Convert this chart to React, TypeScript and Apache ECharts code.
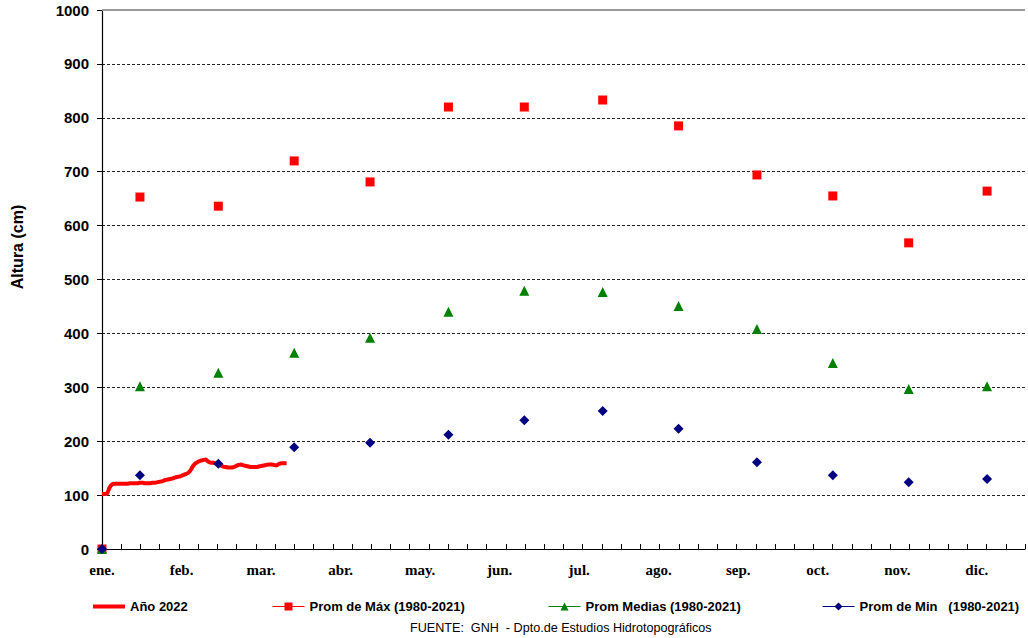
import React, { useEffect, useRef } from 'react';
import * as echarts from 'echarts';

// meses (etiquetas del eje X)
const monthLabels = ['ene.', 'feb.', 'mar.', 'abr.', 'may.', 'jun.', 'jul.', 'ago.', 'sep.', 'oct.', 'nov.', 'dic.'];
// día del año donde se ubica cada promedio mensual
const monthMid = [15, 46, 76, 106, 137, 167, 198, 228, 259, 289, 319, 350];

const promMax = [653, 636, 720, 681, 820, 820, 833, 785, 694, 655, 568, 664];
const promMedias = [302, 327, 364, 392, 440, 479, 477, 451, 408, 345, 297, 302];
const promMin = [137, 158, 189, 197, 212, 239, 256, 223, 161, 137, 124, 130];

// Año 2022, lecturas diarias desde el 1 de enero
const nivel2022 = [
  102, 102, 103, 114, 120, 121, 121, 121, 121, 121,
  121, 122, 122, 122, 122, 123, 123, 122, 122, 122,
  123, 123, 124, 125, 126, 128, 129, 130, 131, 133,
  134, 135, 137, 139, 141, 146, 154, 159, 162, 164,
  165, 166, 162, 160, 160, 159, 157, 155, 153, 152,
  151, 151, 152, 154, 156, 157, 155, 154, 153, 152,
  152, 152, 153, 154, 155, 156, 157, 157, 156, 155,
  158, 159, 159, 159,
];

const yTicks = { min: 0, max: 1000, interval: 100 };
const daysInYear = 365;
const tickCount = 48;
const labelStepDays = 31.45;

const App: React.FC = () => {
  const chartRef = useRef<HTMLDivElement>(null);

  useEffect(() => {
    if (!chartRef.current) return;
    const chart = echarts.init(chartRef.current, undefined, { renderer: 'svg' });

    const sans = 'Liberation Sans, Arial, sans-serif';
    const serif = 'Liberation Serif, Times New Roman, serif';

    const withOrigin = (vals: number[]) => [[0, 0], ...vals.map((v, i) => [monthMid[i], v])];

    const legendBase = {
      orient: 'horizontal' as const,
      top: 600,
      padding: 0,
      itemWidth: 32,
      itemHeight: 10,
      textStyle: { fontFamily: sans, fontWeight: 'bold' as const, fontSize: 13, color: '#000' },
      selectedMode: false,
    };

    const option = {
      animation: false,
      backgroundColor: '#fff',
      grid: { left: 102, right: 3, top: 10, bottom: 89, outerBoundsMode: 'none' },
      title: {
        text: 'FUENTE:  GNH  - Dpto.de Estudios Hidrotopográficos',
        left: 410,
        top: 621,
        padding: 0,
        textStyle: { fontFamily: sans, fontWeight: 'normal', fontSize: 12.6, color: '#000' },
      },
      legend: [
        {
          ...legendBase,
          left: 93,
          top: 600,
          itemHeight: 4,
          data: [{ name: 'Año 2022', icon: 'rect', itemStyle: { color: '#ff0000' } }],
        },
        {
          ...legendBase,
          left: 272,
          data: [{ name: 'Prom de Máx (1980-2021)', lineStyle: { width: 1, opacity: 1, color: '#ff0000' } }],
        },
        {
          ...legendBase,
          left: 548,
          data: [{ name: 'Prom Medias (1980-2021)', lineStyle: { width: 1, opacity: 1, color: '#008000' } }],
        },
        {
          ...legendBase,
          left: 822,
          data: [{ name: 'Prom de Min   (1980-2021)', lineStyle: { width: 1, opacity: 1, color: '#000080' } }],
        },
      ],
      graphic: [
        {
          type: 'text',
          x: 17,
          y: 247,
          rotation: Math.PI / 2,
          style: {
            text: 'Altura (cm)',
            fontFamily: sans,
            fontWeight: 'bold',
            fontSize: 16,
            fill: '#000',
            textAlign: 'center',
            textVerticalAlign: 'middle',
          },
        },
      ],
      xAxis: [
        {
          type: 'value',
          position: 'bottom',
          min: 0,
          max: daysInYear,
          interval: daysInYear / tickCount,
          axisLine: { onZero: false, lineStyle: { color: '#000', width: 1.2 } },
          axisTick: { inside: true, length: 5, lineStyle: { color: '#000' } },
          axisLabel: { show: false },
          splitLine: { show: false },
        },
        {
          type: 'value',
          position: 'bottom',
          min: 0,
          max: daysInYear,
          interval: labelStepDays,
          axisLine: { show: false, onZero: false },
          axisTick: { show: false },
          splitLine: { show: false },
          axisLabel: {
            margin: 13,
            showMaxLabel: false,
            fontFamily: serif,
            fontWeight: 'bold',
            fontSize: 15,
            color: '#000',
            formatter: (v: number) => monthLabels[Math.round(v / labelStepDays)] ?? '',
          },
        },
      ],
      yAxis: {
        type: 'value',
        min: yTicks.min,
        max: yTicks.max,
        interval: yTicks.interval,
        axisLine: { show: true, lineStyle: { color: '#000', width: 1.2 } },
        axisTick: { show: true, length: 5, lineStyle: { color: '#000' } },
        axisLabel: {
          margin: 13,
          fontFamily: sans,
          fontWeight: 'bold',
          fontSize: 15,
          color: '#000',
          formatter: (v: number) => String(v),
        },
        splitLine: { show: true, lineStyle: { color: '#222', width: 1, type: [3, 2] } },
      },
      series: [
        {
          name: 'Año 2022',
          type: 'line',
          data: nivel2022.map((v, i) => [i, v]),
          showSymbol: false,
          symbol: 'none',
          smooth: 0.3,
          lineStyle: { color: '#ff0000', width: 4 },
          itemStyle: { color: '#ff0000' },
          z: 3,
          markLine: {
            silent: true,
            symbol: 'none',
            label: { show: false },
            lineStyle: { color: '#9a9a9a', width: 2, type: 'solid' },
            data: [{ yAxis: yTicks.max }],
          },
        },
        {
          name: 'Prom de Máx (1980-2021)',
          type: 'line',
          data: withOrigin(promMax),
          symbol: 'rect',
          symbolSize: 9,
          lineStyle: { width: 0, opacity: 0 },
          itemStyle: { color: '#ff0000' },
          z: 4,
        },
        {
          name: 'Prom Medias (1980-2021)',
          type: 'line',
          data: withOrigin(promMedias),
          symbol: 'triangle',
          symbolSize: 10,
          lineStyle: { width: 0, opacity: 0 },
          itemStyle: { color: '#008000' },
          z: 4,
        },
        {
          name: 'Prom de Min   (1980-2021)',
          type: 'line',
          data: withOrigin(promMin),
          symbol: 'diamond',
          symbolSize: 10,
          lineStyle: { width: 0, opacity: 0 },
          itemStyle: { color: '#000080' },
          z: 5,
        },
      ],
    };

    chart.setOption(option);

    return () => {
      chart.dispose();
    };
  }, []);

  return (
    <div
      ref={chartRef}
      style={{ position: 'fixed', left: 0, top: 0, width: '1028px', height: '638px' }}
    />
  );
};

export default App;
